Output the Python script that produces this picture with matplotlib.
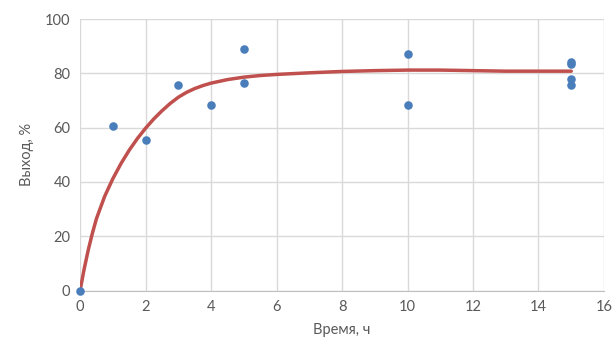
import matplotlib
matplotlib.use("Agg")
import matplotlib.pyplot as plt

plt.rcParams['font.family'] = ['Lato', 'DejaVu Sans']

# экспериментальные точки
time_h = [0, 1, 2, 3, 4, 5, 5, 10, 10, 15, 15, 15, 15]
yield_pct = [0, 60.6, 55.5, 75.8, 68.5, 89.1, 76.6, 87.2, 68.2, 84.2, 83.5, 78.0, 75.7]

# линия тренда
trend_x = [0, 0.125, 0.25, 0.375, 0.5, 0.75, 1, 1.25, 1.5, 1.75, 2, 2.25, 2.5, 2.75, 3,
           3.25, 3.5, 3.75, 4, 4.5, 5, 5.5, 6, 7, 8, 9, 10, 11, 12, 13, 14, 15]
trend_y = [0, 8, 15, 21.1, 26.5, 34.7, 41.2, 46.8, 51.7, 56, 59.8, 63.2, 66.2, 68.9, 71.2,
           73, 74.4, 75.5, 76.4, 77.7, 78.6, 79.2, 79.6, 80.2, 80.7, 81.0, 81.2, 81.2,
           81.0, 80.8, 80.8, 80.8]

grey = "#595959"
fig = plt.figure(figsize=(6.16, 3.46), dpi=100)
ax = fig.add_axes([0.13, 0.16, 0.8505, 0.785])

ax.plot(trend_x, trend_y, color="#c0504d", lw=2.5, zorder=3,
        solid_capstyle="round", solid_joinstyle="round")
ax.scatter(time_h, yield_pct, s=38, color="#4a7ebb", zorder=4, linewidths=0, clip_on=False)

ax.set_xlim(0, 16)
ax.set_ylim(0, 100)
ax.set_xticks(range(0, 17, 2))
ax.set_yticks(range(0, 101, 20))
ax.grid(True, color="#d9d9d9", lw=1)
ax.set_axisbelow(True)
for s in ["top", "right", "left"]:
    ax.spines[s].set_visible(False)
ax.spines["bottom"].set_color("#bfbfbf")
ax.tick_params(length=0, labelsize=10.5, colors=grey, pad=7)
ax.set_xlabel("Время, ч", fontsize=10.5, color=grey, labelpad=6)
ax.set_ylabel("Выход, %", fontsize=10.5, color=grey, labelpad=8)

fig.savefig("out.png", dpi=100)
